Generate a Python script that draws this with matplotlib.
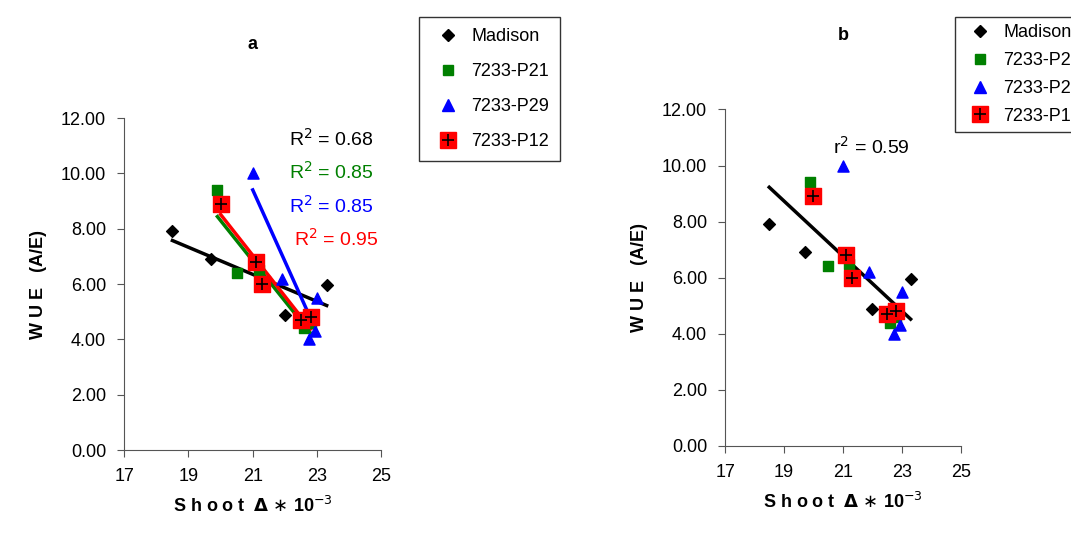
import numpy as np
import matplotlib.pyplot as plt

plt.rcParams['font.family'] = ['Liberation Sans', 'DejaVu Sans']

# Shoot delta *10^-3 and WUE (A/E) per genotype
mad_x = [18.5, 19.7, 22.0, 23.3]
mad_y = [7.9, 6.9, 4.9, 5.95]
p21_x = [19.9, 20.5, 21.2, 22.6, 22.8]
p21_y = [9.4, 6.4, 6.5, 4.4, 4.6]
p29_x = [21.0, 21.9, 23.0, 22.95, 22.75]
p29_y = [10.0, 6.2, 5.5, 4.3, 4.0]
p12_x = [20.0, 21.1, 21.3, 22.5, 22.8]
p12_y = [8.9, 6.8, 6.0, 4.7, 4.8]

series = [
    ('Madison', mad_x, mad_y, 'black', 'D', 6),
    ('7233-P21', p21_x, p21_y, 'green', 's', 7),
    ('7233-P29', p29_x, p29_y, 'blue', '^', 8),
    ('7233-P12', p12_x, p12_y, 'red', 's', 11),
]
r2_a = ['0.68', '0.85', '0.85', '0.95']
r2_b = '0.59'

fig = plt.figure(figsize=(10.71, 5.34), dpi=100)
ax_a = fig.add_axes([0.116, 0.157, 0.24, 0.622])
ax_b = fig.add_axes([0.677, 0.165, 0.22, 0.63])


def draw_points(ax):
    handles = []
    for name, x, y, c, m, s in series:
        if name == '7233-P12':
            ax.scatter(x, y, marker='s', s=s**2, color=c, zorder=3)
            ax.scatter(x, y, marker='+', s=80, color='black', linewidths=1.2, zorder=4)
            h = (plt.Line2D([], [], marker='s', ms=s, color=c, ls=''),
                 plt.Line2D([], [], marker='+', ms=9, mew=1.2, color='black', ls=''))
        else:
            ax.scatter(x, y, marker=m, s=s**2, color=c, zorder=3)
            h = plt.Line2D([], [], marker=m, ms=s, color=c, ls='')
        handles.append(h)
    return handles


def style(ax, title):
    ax.set_xlim(17, 25)
    ax.set_ylim(0, 12)
    ax.set_xticks([17, 19, 21, 23, 25])
    ax.set_yticks(np.arange(0, 12.1, 2))
    ax.set_yticklabels(['%.2f' % v for v in np.arange(0, 12.1, 2)])
    ax.spines['top'].set_visible(False)
    ax.spines['right'].set_visible(False)
    ax.spines['left'].set_color('#555555')
    ax.spines['bottom'].set_color('#555555')
    ax.tick_params(labelsize=13, direction='out', length=5, pad=8, color='#555555')
    ax.set_ylabel('W U E   (A/E)', fontsize=13, fontweight='bold', labelpad=10)
    ax.set_xlabel(r'S h o o t  $\mathbf{\Delta}$ $\ast$ 10$^{-3}$', fontsize=13,
                  fontweight='bold', labelpad=8)
    ax.set_title(title, fontsize=13, fontweight='bold', pad=50)


# panel a: separate fits
handles = draw_points(ax_a)
for (name, x, y, c, m, s) in series:
    k, b = np.polyfit(x, y, 1)
    xs = np.array([min(x), max(x)])
    ax_a.plot(xs, k * xs + b, color=c, lw=2.5, zorder=2)
for i, ((name, x, y, c, m, s), r) in enumerate(zip(series, r2_a)):
    ax_a.text(0.64 if i < 3 else 0.66, 0.97 - i * 0.1, 'R$^2$ = ' + r, color=c,
              fontsize=14, transform=ax_a.transAxes, va='top')
style(ax_a, 'a')
fig.legend(handles, [s[0] for s in series], loc='upper left',
           bbox_to_anchor=(0.383, 0.985), fontsize=13, frameon=True, fancybox=False,
           edgecolor='black', labelspacing=1.0, handletextpad=0.3, borderpad=0.6)

# panel b: pooled fit
handles = draw_points(ax_b)
allx = np.concatenate([s[1] for s in series])
ally = np.concatenate([s[2] for s in series])
k, b = np.polyfit(allx, ally, 1)
xs = np.array([18.5, 23.3])
ax_b.plot(xs, k * xs + b, color='black', lw=2.5, zorder=2)
ax_b.text(0.46, 0.92, 'r$^2$ = ' + r2_b, fontsize=14, transform=ax_b.transAxes, va='top')
style(ax_b, 'b')
fig.legend(handles, [s[0] for s in series], loc='upper left',
           bbox_to_anchor=(0.883, 0.985), fontsize=13, frameon=True, fancybox=False,
           edgecolor='black', labelspacing=0.6, handletextpad=0.3, borderpad=0.4)

fig.savefig('out.png', dpi=100)
